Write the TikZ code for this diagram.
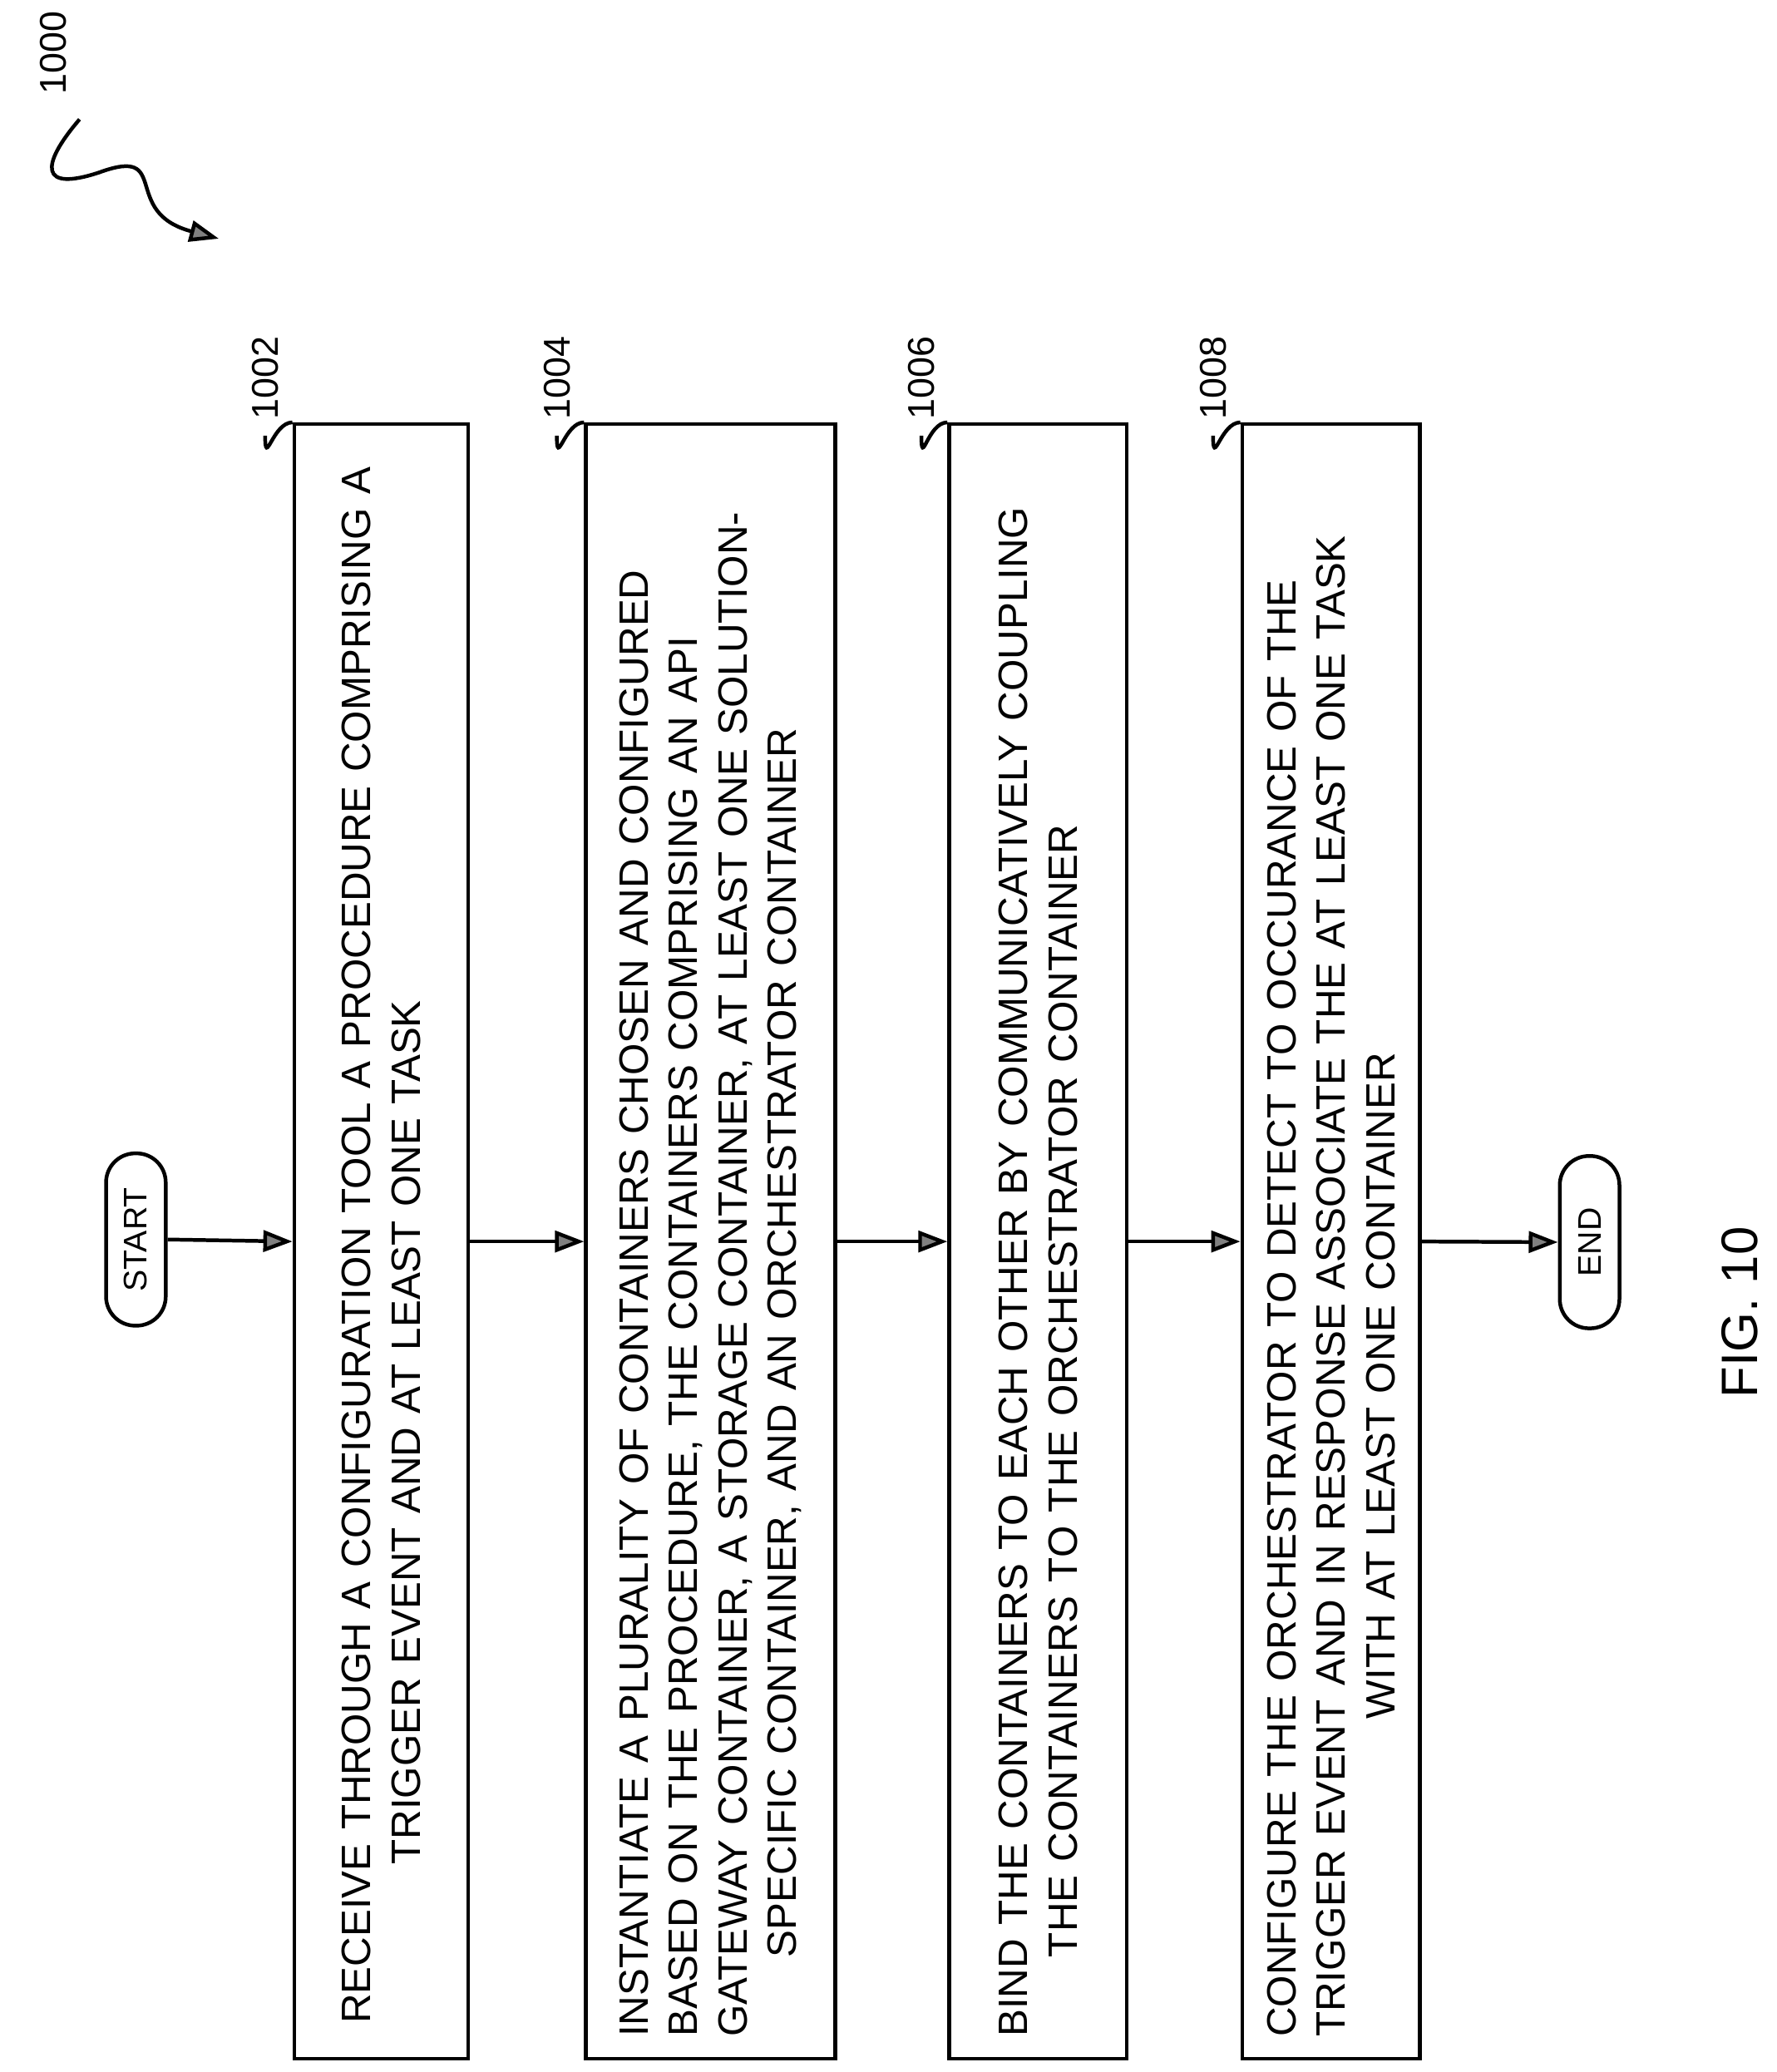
\documentclass[tikz,border=0pt]{standalone}
\usepackage{fontspec}
\setmainfont{Liberation Sans}
\usetikzlibrary{arrows.meta}
\tikzset{
  stepbox/.style={draw, thick, rotate=90, minimum width=12.33cm, inner xsep=0.15cm,
    text width=12.0cm, align=left, font=\fontsize{8.8}{10.6}\selectfont},
  term/.style={draw, thick, rotate=90, rounded corners=0.22cm, minimum width=1.3cm,
    minimum height=0.45cm, font=\fontsize{7}{8}\selectfont},
  ref/.style={rotate=90, font=\fontsize{8}{9}\selectfont},
  flow/.style={thick, -{Triangle[length=0.22cm, width=0.16cm, fill=gray]}}
}
\begin{document}
\begin{tikzpicture}
        \useasboundingbox (0,0) rectangle (13.40,-15.63);
        % 端子
        \node[term] (start) at (1.025,-9.35) {START};
        \node[term] (end) at (11.99,-9.37) {END};
        % 手順
        \node[stepbox, minimum height=1.31cm] (s1002) at (2.875,-9.365)
          {\hspace*{0.1cm}RECEIVE THROUGH A CONFIGURATION TOOL A PROCEDURE COMPRISING A\\
           \hspace*{1.3cm}TRIGGER EVENT AND AT LEAST ONE TASK};
        \node[stepbox, minimum height=1.88cm] (s1004) at (5.36,-9.365)
          {INSTANTIATE A PLURALITY OF CONTAINERS CHOSEN AND CONFIGURED\\
           BASED ON THE PROCEDURE, THE CONTAINERS COMPRISING AN API\\
           GATEWAY CONTAINER, A STORAGE CONTAINER, AT LEAST ONE SOLUTION-\\
           \hspace*{0.6cm}SPECIFIC CONTAINER, AND AN ORCHESTRATOR CONTAINER};
        \node[stepbox, minimum height=1.34cm] (s1006) at (7.83,-9.365)
          {BIND THE CONTAINERS TO EACH OTHER BY COMMUNICATIVELY COUPLING\\
           \hspace*{0.6cm}THE CONTAINERS TO THE ORCHESTRATOR CONTAINER};
        \node[stepbox, minimum height=1.34cm] (s1008) at (10.04,-9.365)
          {CONFIGURE THE ORCHESTRATOR TO DETECT TO OCCURANCE OF THE\\
           TRIGGER EVENT AND IN RESPONSE ASSOCIATE THE AT LEAST ONE TASK\\
           \hspace*{2.4cm}WITH AT LEAST ONE CONTAINER};
        % 矢印
        \draw[flow] (start.south) -- (s1002.north);
        \draw[flow] (s1002.south) -- (s1004.north);
        \draw[flow] (s1004.south) -- (s1006.north);
        \draw[flow] (s1006.south) -- (s1008.north);
        \draw[flow] (s1008.south) -- (end.north);
        % 参照番号
        \foreach \n/\x in {1002/2.0,1004/4.2,1006/6.95,1008/9.15} {
          \node[ref] (r\n) at (\x,-2.85) {\n};
          \draw[thick] (r\n.west) .. controls +(0,-0.25) and +(-0.15,0) .. (s\n.north east);
        }
        \node[ref] (r1000) at (0.4,-0.4) {1000};
        \draw[thick, -{Triangle[length=0.22cm, width=0.16cm, fill=gray]}] (0.6,-0.9)
          .. controls (0.3,-1.25) and (0.3,-1.45) .. (0.75,-1.3)
          .. controls (1.3,-1.1) and (0.9,-1.6) .. (1.65,-1.8);
        \node[ref, font=\fontsize{11}{12}\selectfont] (fig) at (13.12,-9.9) {FIG. 10};
\end{tikzpicture}
\end{document}
